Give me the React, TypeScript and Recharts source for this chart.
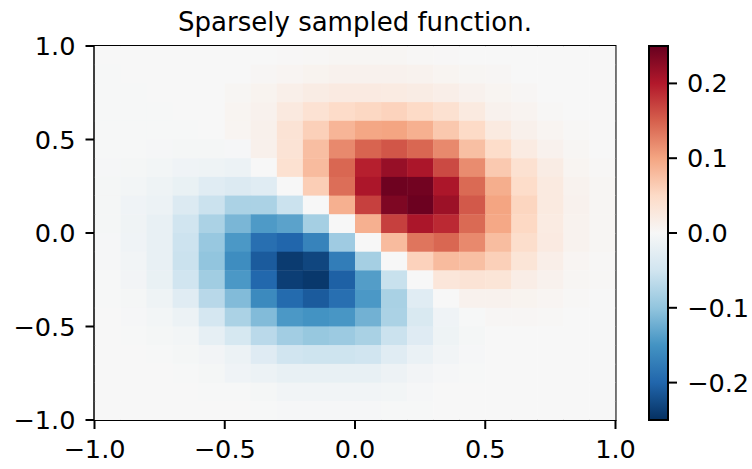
import React from 'react';
import { ScatterChart, Scatter, XAxis, YAxis, ReferenceArea } from 'recharts';

// bin centres of the 20 x 20 image
const xCenters = [-0.95, -0.85, -0.75, -0.65, -0.55, -0.45, -0.35, -0.25, -0.15, -0.05, 0.05, 0.15, 0.25, 0.35, 0.45, 0.55, 0.65, 0.75, 0.85, 0.95];
const yCenters = [0.95, 0.85, 0.75, 0.65, 0.55, 0.45, 0.35, 0.25, 0.15, 0.05, -0.05, -0.15, -0.25, -0.35, -0.45, -0.55, -0.65, -0.75, -0.85, -0.95];

// values, top row first
const gridValues = [
  [0, 0, 0, 0, 0, 0, 0, 0.001, 0.002, 0.004, 0.004, 0.004, 0.002, 0.001, 0, 0, 0, 0, 0, 0],
  [-0.001, 0, 0, 0, 0, 0, 0.003, 0.005, 0.008, 0.01, 0.01, 0.01, 0.009, 0.006, 0.004, 0.003, 0, 0, 0, 0],
  [-0.001, -0.001, 0, 0, 0, 0.004, 0.008, 0.015, 0.02, 0.023, 0.023, 0.022, 0.02, 0.016, 0.01, 0.006, 0.003, 0, 0, 0],
  [-0.001, -0.001, -0.001, 0, 0, 0.006, 0.01, 0.025, 0.038, 0.048, 0.053, 0.057, 0.05, 0.04, 0.024, 0.01, 0.007, 0.002, 0, 0],
  [-0.001, -0.001, -0.001, -0.001, 0, 0.006, 0.012, 0.035, 0.06, 0.085, 0.098, 0.1, 0.09, 0.068, 0.05, 0.024, 0.012, 0.006, 0.002, 0],
  [-0.001, -0.001, -0.003, -0.004, -0.004, -0.002, 0.012, 0.035, 0.077, 0.12, 0.147, 0.157, 0.145, 0.12, 0.076, 0.047, 0.022, 0.01, 0.004, 0],
  [-0.002, -0.004, -0.006, -0.01, -0.012, -0.015, 0, 0.04, 0.08, 0.145, 0.195, 0.218, 0.205, 0.165, 0.118, 0.067, 0.04, 0.02, 0.006, 0.002],
  [-0.004, -0.006, -0.012, -0.018, -0.03, -0.035, -0.03, 0, 0.062, 0.14, 0.204, 0.245, 0.243, 0.204, 0.143, 0.092, 0.047, 0.024, 0.009, 0.004],
  [-0.004, -0.01, -0.015, -0.035, -0.055, -0.08, -0.08, -0.055, 0, 0.09, 0.172, 0.235, 0.247, 0.215, 0.155, 0.1, 0.055, 0.024, 0.01, 0.004],
  [-0.004, -0.011, -0.02, -0.05, -0.08, -0.115, -0.143, -0.135, -0.085, 0, 0.09, 0.172, 0.205, 0.188, 0.143, 0.097, 0.052, 0.022, 0.009, 0.004],
  [-0.002, -0.01, -0.02, -0.053, -0.095, -0.145, -0.19, -0.2, -0.168, -0.09, 0, 0.08, 0.135, 0.145, 0.12, 0.078, 0.045, 0.023, 0.009, 0.004],
  [-0.002, -0.008, -0.02, -0.055, -0.1, -0.157, -0.21, -0.24, -0.23, -0.175, -0.085, 0, 0.058, 0.08, 0.076, 0.06, 0.033, 0.016, 0.005, 0.002],
  [-0.001, -0.007, -0.018, -0.05, -0.088, -0.145, -0.198, -0.237, -0.243, -0.205, -0.14, -0.057, 0, 0.03, 0.035, 0.033, 0.018, 0.01, 0.004, 0.002],
  [-0.001, -0.004, -0.012, -0.03, -0.07, -0.11, -0.16, -0.195, -0.21, -0.19, -0.145, -0.082, -0.03, 0, 0.01, 0.01, 0.008, 0.005, 0.002, 0],
  [0, -0.002, -0.006, -0.014, -0.045, -0.08, -0.11, -0.145, -0.15, -0.147, -0.12, -0.08, -0.04, -0.01, -0.001, 0.003, 0.003, 0.002, 0, 0],
  [0, -0.001, -0.004, -0.006, -0.022, -0.043, -0.068, -0.087, -0.096, -0.092, -0.082, -0.055, -0.032, -0.012, -0.004, 0, 0, 0, 0, 0],
  [0, 0, -0.001, -0.004, -0.007, -0.015, -0.032, -0.05, -0.052, -0.052, -0.05, -0.03, -0.017, -0.008, -0.003, 0, 0, 0, 0, 0],
  [0, 0, 0, -0.001, -0.004, -0.01, -0.015, -0.02, -0.02, -0.02, -0.02, -0.013, -0.007, -0.003, -0.001, 0, 0, 0, 0, 0],
  [0, 0, 0, 0, -0.001, -0.001, -0.004, -0.008, -0.008, -0.008, -0.008, -0.006, -0.002, 0, 0, 0, 0, 0, 0, 0],
  [0, 0, 0, 0, 0, 0, -0.001, -0.002, -0.002, -0.002, -0.002, -0.001, -0.001, 0, 0, 0, 0, 0, 0, 0],
];

const axisTicks = [-1, -0.5, 0, 0.5, 1];
const colorbarTicks = [-0.2, -0.1, 0, 0.1, 0.2];
const titleText = 'Sparsely sampled function.';

// RdBu_r, from vmin to vmax
const colorStops = ['#053061', '#2166ac', '#4393c3', '#92c5de', '#d1e5f0', '#f7f7f7', '#fddbc7', '#f4a582', '#d6604d', '#b2182b', '#67001f'];

const vMax = 0.25;
const plotW = 521;
const plotH = 374;
const fontFamily = '"DejaVu Sans", sans-serif';

const hexToRgb = (hex: string) => [1, 3, 5].map((i) => parseInt(hex.slice(i, i + 2), 16));

const valueToColor = (v: number) => {
  const t = Math.min(Math.max((v + vMax) / (2 * vMax), 0), 1) * (colorStops.length - 1);
  const i = Math.min(Math.floor(t), colorStops.length - 2);
  const a = hexToRgb(colorStops[i]);
  const b = hexToRgb(colorStops[i + 1]);
  const mix = a.map((c, k) => Math.round(c + (b[k] - c) * (t - i)));
  return `rgb(${mix[0]},${mix[1]},${mix[2]})`;
};

const cellData = gridValues.flatMap((row, r) =>
  row.map((value, c) => ({ x: xCenters[c], y: yCenters[r], value }))
);

// two corner points so the colorbar axes have a domain to work with
const colorbarData = [
  { x: 0, y: -vMax },
  { x: 1, y: vMax },
];

const formatTick = (v: number, digits: number) =>
  v < 0 ? `\u2212${Math.abs(v).toFixed(digits)}` : v.toFixed(digits);

const HeatCell = (props: any) => {
  const { cx, cy, payload } = props;
  const w = plotW / 20;
  const h = plotH / 20;
  return (
    <rect
      x={cx - w / 2}
      y={cy - h / 2}
      width={w + 0.4}
      height={h + 0.4}
      fill={valueToColor(payload.value)}
      stroke="none"
    />
  );
};

const tickStyle = { fill: '#000', fontSize: 25.6, fontFamily };
const axisLine = { stroke: '#000', strokeWidth: 2 };

export default function App() {
  return (
    <div style={{ position: 'absolute', left: 0, top: 0, width: 752, height: 469, background: '#fff', overflow: 'hidden' }}>
      <div
        style={{
          position: 'absolute',
          left: 55,
          width: 600,
          top: 6,
          textAlign: 'center',
          fontFamily,
          fontSize: 26,
          lineHeight: '32px',
          color: '#000',
          whiteSpace: 'nowrap',
        }}
      >
        {titleText}
      </div>

      <div style={{ position: 'absolute', left: 0, top: 0 }}>
        <ScatterChart width={752} height={469} margin={{ top: 46, right: 136.5, bottom: 0, left: 34.5 }}>
          <XAxis
            type="number"
            dataKey="x"
            domain={[-1, 1]}
            ticks={axisTicks}
            interval={0}
            height={49}
            tickSize={9}
            tickMargin={11}
            allowDataOverflow
            tick={tickStyle}
            axisLine={axisLine}
            tickLine={axisLine}
            tickFormatter={(v: number) => formatTick(v, 1)}
          />
          <YAxis
            type="number"
            dataKey="y"
            domain={[-1, 1]}
            ticks={axisTicks}
            interval={0}
            width={60}
            tickSize={9}
            tickMargin={10}
            allowDataOverflow
            tick={tickStyle}
            axisLine={axisLine}
            tickLine={axisLine}
            tickFormatter={(v: number) => formatTick(v, 1)}
          />
          <Scatter data={cellData} shape={HeatCell} isAnimationActive={false} />
          <ReferenceArea x1={-1} x2={1} y1={-1} y2={1} fill="none" stroke="#000" strokeWidth={2} fillOpacity={0} ifOverflow="visible" />
        </ScatterChart>
      </div>

      <div style={{ position: 'absolute', left: 0, top: 0 }}>
        <ScatterChart width={752} height={469} margin={{ top: 46, right: 0, bottom: 0, left: 649 }}>
          <defs>
            <linearGradient id="rdbu" x1="0" y1="1" x2="0" y2="0">
              {colorStops.map((c, i) => (
                <stop key={c} offset={i / (colorStops.length - 1)} stopColor={c} />
              ))}
            </linearGradient>
          </defs>
          <XAxis type="number" dataKey="x" domain={[0, 1]} height={49} tick={false} axisLine={false} tickLine={false} />
          <YAxis
            type="number"
            dataKey="y"
            orientation="right"
            domain={[-vMax, vMax]}
            ticks={colorbarTicks}
            interval={0}
            width={84}
            tickSize={9}
            tickMargin={10}
            allowDataOverflow
            tick={{ ...tickStyle, textAnchor: 'start' }}
            axisLine={false}
            tickLine={axisLine}
            tickFormatter={(v: number) => formatTick(v, 1)}
          />
          <Scatter data={colorbarData} shape={() => <g />} isAnimationActive={false} />
          <ReferenceArea x1={0} x2={1} y1={-vMax} y2={vMax} fill="url(#rdbu)" fillOpacity={1} stroke="#000" strokeWidth={2} ifOverflow="visible" />
        </ScatterChart>
      </div>
    </div>
  );
}
